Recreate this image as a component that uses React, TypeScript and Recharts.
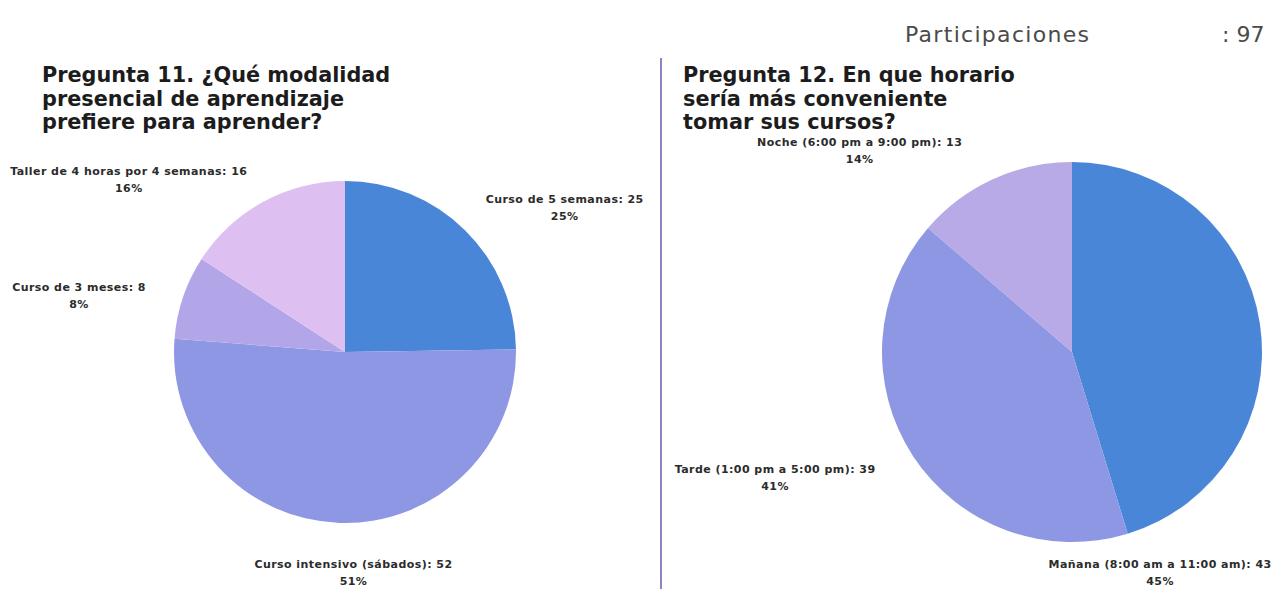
import { Cell, Pie, PieChart } from "recharts";

const q11Names = [
  "Curso de 5 semanas",
  "Curso intensivo (sábados)",
  "Curso de 3 meses",
  "Taller de 4 horas por 4 semanas",
];
const q11Values = [25, 52, 8, 16];

const q12Names = [
  "Mañana (8:00 am a 11:00 am)",
  "Tarde (1:00 pm a 5:00 pm)",
  "Noche (6:00 pm a 9:00 pm)",
];
const q12Values = [43, 39, 13];

const participaciones = 97;

const q11Colors = ["#4a86d8", "#8e97e3", "#b3a6e8", "#ddc0f1"];
const q12Colors = ["#4a86d8", "#8e97e3", "#b8a9e7"];

// label placement tweaks (degrees off the slice mid-angle, distance from centre)
const labelLayout: Record<string, { shift: number; dist: number }> = {
  "Curso de 5 semanas": { shift: -12.1, dist: 263 },
  "Curso intensivo (sábados)": { shift: 4, dist: 220 },
  "Curso de 3 meses": { shift: 6.6, dist: 272 },
  "Taller de 4 horas por 4 semanas": { shift: 22.8, dist: 277 },
  "Mañana (8:00 am a 11:00 am)": { shift: -76.7, dist: 237 },
  "Tarde (1:00 pm a 5:00 pm)": { shift: -10.4, dist: 322 },
  "Noche (6:00 pm a 9:00 pm)": { shift: 21.8, dist: 293 },
};

const q11Data = q11Names.map((name, i) => ({ name, value: q11Values[i] }));
const q12Data = q12Names.map((name, i) => ({ name, value: q12Values[i] }));

const RAD = Math.PI / 180;
const font = "'DejaVu Sans', sans-serif";

function SliceLabel(props: any) {
  const { cx, cy, midAngle, percent, name, value } = props;
  const lay = labelLayout[name] ?? { shift: 0, dist: 260 };
  const a = (midAngle + lay.shift) * RAD;
  const x = cx + lay.dist * Math.cos(a);
  const y = cy - lay.dist * Math.sin(a);
  return (
    <text
      x={x}
      y={y}
      textAnchor="middle"
      fill="#2b2b2b"
      fontSize={11}
      fontWeight={700}
      letterSpacing={0.45}
      fontFamily={font}
    >
      <tspan x={x} dy={-4}>{`${name}: ${value}`}</tspan>
      <tspan x={x} dy={17}>{`${Math.round(percent * 100)}%`}</tspan>
    </text>
  );
}

const titleStyle: React.CSSProperties = {
  position: "absolute",
  top: 64,
  fontFamily: font,
  fontWeight: 700,
  fontSize: 20.8,
  lineHeight: "23.5px",
  color: "#1c1c1c",
  margin: 0,
  whiteSpace: "pre",
};

const countStyle: React.CSSProperties = {
  position: "absolute",
  top: 22,
  fontFamily: font,
  fontSize: 22,
  color: "#4a4a4a",
  whiteSpace: "pre",
};

export default function App() {
  return (
    <div
      style={{
        position: "absolute",
        left: 0,
        top: 0,
        width: 1284,
        height: 589,
        background: "#fff",
        overflow: "hidden",
      }}
    >
      <div style={{ position: "absolute", left: 0, top: 0 }}>
        <PieChart width={1284} height={589} margin={{ top: 0, right: 0, bottom: 0, left: 0 }}>
          <Pie
            data={q11Data}
            dataKey="value"
            nameKey="name"
            cx={345}
            cy={352}
            outerRadius={171}
            startAngle={90}
            endAngle={-270}
            stroke="none"
            labelLine={false}
            label={SliceLabel}
            isAnimationActive={false}
          >
            {q11Data.map((d, i) => (
              <Cell key={d.name} fill={q11Colors[i]} />
            ))}
          </Pie>
          <Pie
            data={q12Data}
            dataKey="value"
            nameKey="name"
            cx={1072}
            cy={352}
            outerRadius={190}
            startAngle={90}
            endAngle={-270}
            stroke="none"
            labelLine={false}
            label={SliceLabel}
            isAnimationActive={false}
          >
            {q12Data.map((d, i) => (
              <Cell key={d.name} fill={q12Colors[i]} />
            ))}
          </Pie>
        </PieChart>
      </div>

      <div style={{ position: "absolute", left: 660, top: 58, width: 2, height: 531, background: "#8a86c4" }} />

      <div style={{ ...titleStyle, left: 42 }}>
        {"Pregunta 11. ¿Qué modalidad\npresencial de aprendizaje\nprefiere para aprender?"}
      </div>
      <div style={{ ...titleStyle, left: 683 }}>
        {"Pregunta 12. En que horario\nsería más conveniente\ntomar sus cursos?"}
      </div>

      <div style={{ ...countStyle, left: 905, letterSpacing: 1.3 }}>Participaciones</div>
      <div style={{ ...countStyle, left: 1222 }}>{`: ${participaciones}`}</div>
    </div>
  );
}
